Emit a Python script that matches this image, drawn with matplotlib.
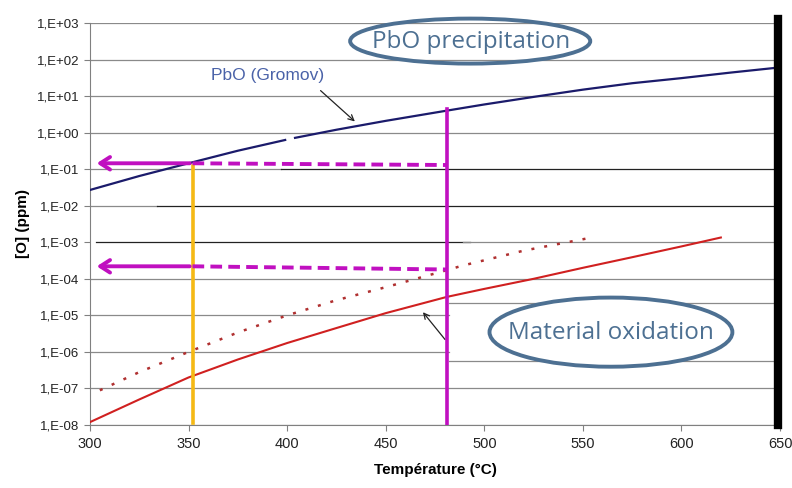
import matplotlib.pyplot as plt
from matplotlib.patches import Ellipse
from matplotlib.ticker import FixedLocator, FixedFormatter

plt.rcParams['font.family'] = ['Liberation Sans', 'DejaVu Sans']

# PbO solubility (Gromov), drawn in two pieces with a small break near 400 C
temp_pbo_a = [300, 325, 350, 375, 399]
o_pbo_a = [0.027, 0.065, 0.145, 0.32, 0.63]
temp_pbo_b = [404, 425, 450, 481, 500, 525, 550, 575, 600, 625, 650]
o_pbo_b = [0.72, 1.2, 2.1, 4.0, 5.9, 9.5, 15, 22.5, 31, 44, 61]

# material oxidation thresholds
temp_ox = [300, 325, 350, 375, 400, 425, 450, 481, 500, 525, 550, 575, 600, 620]
o_ox = [1.2e-8, 5.0e-8, 2.0e-7, 6.2e-7, 1.75e-6, 4.5e-6, 1.15e-5, 3.2e-5,
        5.3e-5, 1.0e-4, 2.0e-4, 3.9e-4, 7.7e-4, 1.35e-3]
temp_ox2 = [305, 325, 350, 375, 400, 425, 450, 477, 489, 520, 553]
o_ox2 = [8.9e-8, 2.8e-7, 1.0e-6, 3.4e-6, 1.0e-5, 2.6e-5, 5.9e-5, 1.5e-4,
         2.3e-4, 5.9e-4, 1.3e-3]

t_low, t_high = 352, 481
o_low_top, o_high_top = 0.12, 4.3
o_read_1 = [0.145, 0.13]
o_read_2 = [2.2e-4, 1.8e-4]

# grid: (value, start, end, colour)
grid_lines = [(1e3, 300, 650, 'g'), (1e2, 300, 650, 'g'), (1e1, 300, 650, 'g'),
              (1e0, 300, 650, 'g'), (1e-1, 300, 397, 'g'), (1e-1, 397, 650, 'k'),
              (1e-2, 300, 334, 'g'), (1e-2, 334, 650, 'k'),
              (1e-3, 303, 493, 'k'), (1e-3, 489, 650, 'g'),
              (1e-4, 300, 650, 'g'), (1e-5, 300, 482, 'g'), (2.2e-5, 482, 650, 'g'),
              (1e-6, 300, 482, 'g'), (5.5e-7, 482, 650, 'g'),
              (1e-7, 300, 650, 'g'), (1e-8, 300, 650, 'g')]

yticks = [10.0 ** k for k in range(-8, 4)]
ylabels = ['1,E' + ('+' if k >= 0 else '-') + '%02d' % abs(k) for k in range(-8, 4)]
xticks = [300, 350, 400, 450, 500, 550, 600, 650]

fig = plt.figure(figsize=(7.92, 4.88), dpi=100)
ax = fig.add_axes([90 / 792, 1 - 425 / 488, 690 / 792, 402 / 488])
ax.set_yscale('log')
ax.set_xlim(300, 650)
ax.set_ylim(1e-8, 1e3)

ax.yaxis.set_major_locator(FixedLocator(yticks))
ax.yaxis.set_major_formatter(FixedFormatter(ylabels))
ax.yaxis.set_minor_locator(FixedLocator([]))
ax.set_xticks(xticks)
ax.tick_params(axis='both', colors='#808080', labelcolor='#222222', labelsize=9.5, length=4)
ax.tick_params(axis='x', labelsize=10.5, pad=5)
for s in ['top', 'right']:
    ax.spines[s].set_visible(False)
for s in ['left', 'bottom']:
    ax.spines[s].set_color('#808080')

for y, x0, x1, c in grid_lines:
    ax.plot([x0, x1], [y, y], color='#8a8a8a' if c == 'g' else '#222222',
            lw=0.9, zorder=1)

ax.plot(temp_pbo_a, o_pbo_a, color='#1b1b6b', lw=1.6, zorder=3)
ax.plot(temp_pbo_b, o_pbo_b, color='#1b1b6b', lw=1.6, zorder=3)
ax.plot(temp_ox, o_ox, color='#d02020', lw=1.5, zorder=3)
ax.plot(temp_ox2, o_ox2, color='#b03030', lw=1.8, ls=(0, (1.2, 4)), zorder=3)

ax.plot([t_low, t_low], [1.15e-8, o_low_top], color='#f5b915', lw=2.6, zorder=4)
ax.plot([t_high, t_high], [1e-8, o_high_top], color='#c010c0', lw=2.6, zorder=4)

mag = '#c010c0'
for o_pair in [o_read_1, o_read_2]:
    ax.plot([t_low, t_high], o_pair, color=mag, lw=2.8, ls=(0, (3, 1.6)), zorder=4)
    ax.annotate('', xy=(302, o_pair[0]), xytext=(t_low, o_pair[0]),
                arrowprops=dict(arrowstyle='->, head_length=0.7, head_width=0.45',
                                color=mag, lw=2.8), zorder=5)

ax.plot([648.8, 648.8], [1e-8, 1.25e3], color='black', lw=6, clip_on=False, zorder=5)

ax.text(390, 37, 'PbO (Gromov)', color='#4a62a8', fontsize=12.5, ha='center', va='center')
ax.annotate('', xy=(435.4, 1.8), xytext=(415.9, 15.9),
            arrowprops=dict(arrowstyle='->', color='#222222', lw=0.9))
ax.annotate('', xy=(468, 1.4e-5), xytext=(481, 1.9e-6),
            arrowprops=dict(arrowstyle='->', color='#222222', lw=0.9))

blue = '#4d7092'
ax.add_patch(Ellipse((0.551, 0.955), 0.348, 0.112, transform=ax.transAxes,
                     fill=False, ec=blue, lw=2.8, clip_on=False, zorder=6))
ax.text(0.552, 0.953, 'PbO precipitation', transform=ax.transAxes, color=blue,
        fontsize=17.5, ha='center', va='center', family=['Open Sans', 'DejaVu Sans'])
ax.add_patch(Ellipse((0.755, 0.231), 0.352, 0.172, transform=ax.transAxes,
                     facecolor='white', ec=blue, lw=2.8, zorder=6))
ax.text(0.755, 0.229, 'Material oxidation', transform=ax.transAxes, color=blue,
        fontsize=17.5, ha='center', va='center', family=['Open Sans', 'DejaVu Sans'], zorder=7)

ax.set_xlabel('Température (°C)', fontsize=11, fontweight='bold', labelpad=8)
ax.set_ylabel('[O] (ppm)', fontsize=11, fontweight='bold', labelpad=5)

fig.savefig('out.png', dpi=100)
